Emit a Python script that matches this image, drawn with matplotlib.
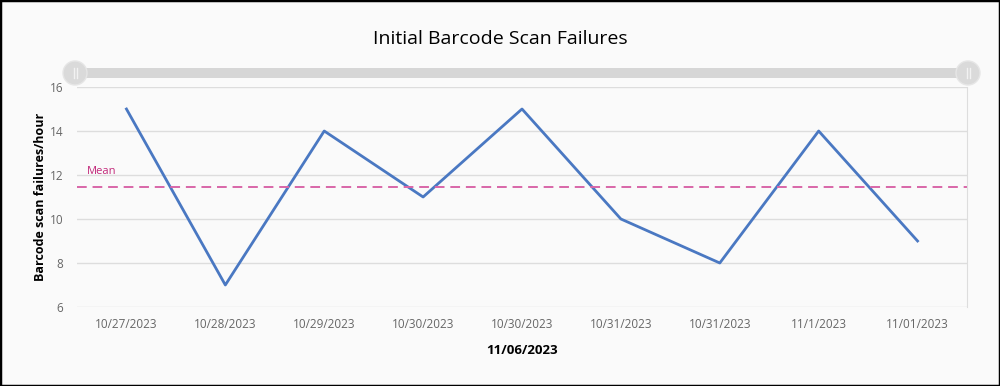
import matplotlib.pyplot as plt
from matplotlib.patches import Circle, Rectangle

dates = ['10/27/2023', '10/28/2023', '10/29/2023', '10/30/2023', '10/30/2023',
         '10/31/2023', '10/31/2023', '11/1/2023', '11/01/2023']
failures = [15, 7, 14, 11, 15, 10, 8, 14, 9]
mean_val = sum(failures) / len(failures)

plt.rcParams['font.family'] = ['Open Sans', 'DejaVu Sans']

fig = plt.figure(figsize=(10, 3.86), dpi=100, facecolor='#fafafa')

# black frame around the image
fig.patches.append(Rectangle((0, 0), 1, 1, transform=fig.transFigure, fill=False,
                             edgecolor='black', linewidth=2.5))

ax = fig.add_axes([0.077, 0.2047, 0.89, 0.5699])
ax.set_facecolor('#fafafa')

x = list(range(len(dates)))
ax.plot(x, failures, color='#4a78c2', linewidth=2)
ax.axhline(mean_val, color='#d966a8', linestyle=(0, (5, 3)), linewidth=1.4)
ax.text(-0.4, mean_val + 0.45, 'Mean', color='#c2287a', fontsize=8,
        ha='left', va='bottom')

ax.set_xlim(-0.5, len(dates) - 0.5)
ax.set_ylim(6, 16)
ax.set_yticks([6, 8, 10, 12, 14, 16])
ax.set_xticks(x)
ax.set_xticklabels(dates)
ax.grid(axis='y', color='#dddddd', linewidth=1)
ax.set_axisbelow(True)
ax.tick_params(axis='both', length=0, labelsize=8.5, labelcolor='#666666')
ax.tick_params(axis='x', pad=8)
ax.tick_params(axis='y', pad=10)
for side in ['left', 'top', 'bottom']:
    ax.spines[side].set_visible(False)
ax.spines['right'].set_color('#dddddd')

ax.set_ylabel('Barcode scan failures/hour', fontsize=9, fontweight='bold', labelpad=2)
ax.set_xlabel('11/06/2023', fontsize=9.5, fontweight='bold', labelpad=9)

fig.text(0.5, 0.90, 'Initial Barcode Scan Failures', ha='center', va='center', fontsize=14)

# range slider at top
sax = fig.add_axes([0, 0, 1, 1], facecolor='none')
sax.set_xlim(0, 1000)
sax.set_ylim(386, 0)
sax.axis('off')
sax.add_patch(Rectangle((75, 68), 893, 10, facecolor='#d6d6d6', edgecolor='none'))
for cx in [75, 968]:
    sax.add_patch(Circle((cx, 73), 12, facecolor='#dadada', edgecolor='#e6e6e6', linewidth=1))
    sax.plot([cx - 1.5, cx - 1.5], [68, 78], color='#f2f2f2', linewidth=1)
    sax.plot([cx + 1.5, cx + 1.5], [68, 78], color='#f2f2f2', linewidth=1)

fig.savefig('out.png', dpi=100, facecolor=fig.get_facecolor())
